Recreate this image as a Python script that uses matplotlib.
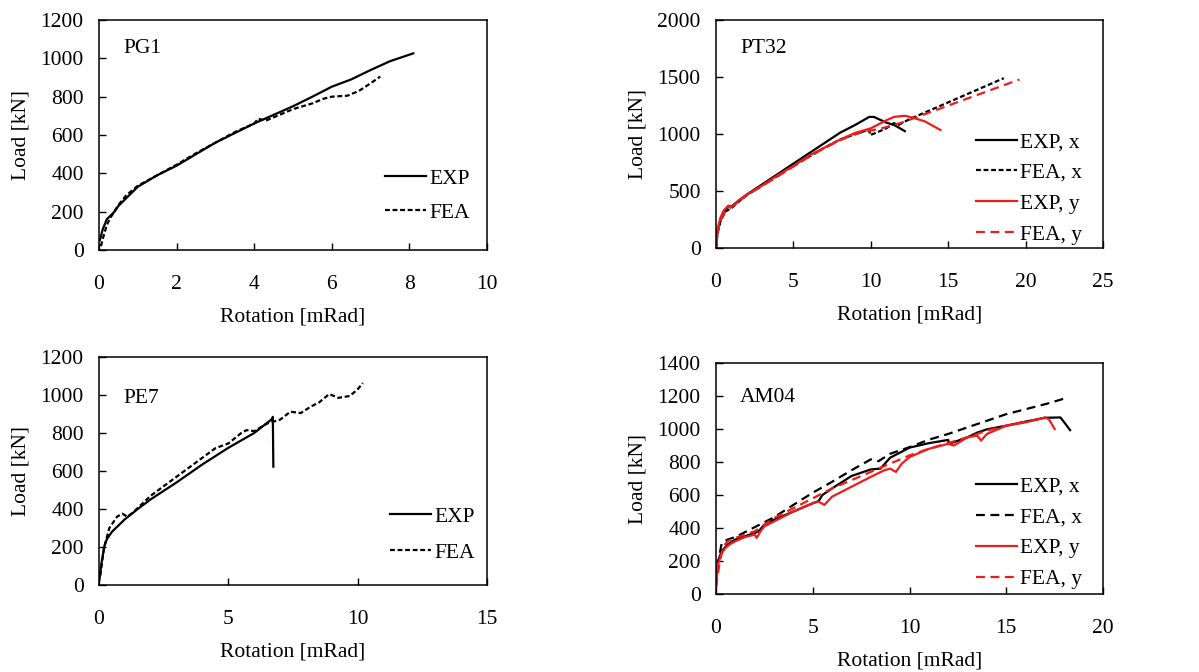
import numpy as np
import matplotlib.pyplot as plt

plt.rcParams['font.family'] = ['Liberation Serif', 'DejaVu Serif']
fs = 15.5

# PG1
pg1_exp_x = [0.02, 0.1, 0.2, 0.4, 0.5, 0.7, 1.0, 1.5, 2.0, 2.5, 3.0, 3.5, 4.0, 4.5, 5.0, 5.5, 6.0, 6.5, 7.0, 7.5, 8.1]
pg1_exp_y = [50, 110, 160, 200, 230, 270, 330, 390, 440, 500, 560, 610, 660, 705, 750, 800, 852, 890, 939, 985, 1026]
pg1_fea_x = [0.05, 0.1, 0.2, 0.3, 0.5, 0.7, 1.0, 1.5, 2.0, 2.5, 3.0, 3.5, 4.0, 4.1, 4.3, 5.0, 5.5, 5.8, 6.0, 6.4, 6.7, 7.0, 7.25]
pg1_fea_y = [20, 60, 130, 170, 235, 285, 335, 390, 445, 505, 560, 615, 660, 685, 675, 735, 765, 790, 800, 805, 830, 870, 905]

# PT32
pt_expx_x = [0.0, 0.1, 0.3, 0.6, 0.8, 1.0, 1.5, 2, 3, 4, 5, 6, 7, 8, 9, 9.9, 10.2, 11, 11.5, 12.2]
pt_expx_y = [0, 150, 250, 330, 370, 365, 420, 470, 560, 650, 740, 830, 920, 1010, 1080, 1150, 1150, 1100, 1080, 1025]
pt_feax_x = [0.0, 0.1, 0.3, 0.6, 1.0, 1.5, 2, 3, 4, 5, 6, 7, 8, 8.5, 9.9, 9.95, 10.5, 11, 11.5, 11.8, 12.5, 18.6]
pt_feax_y = [0, 130, 240, 320, 350, 410, 465, 550, 635, 720, 800, 880, 950, 975, 1040, 990, 1020, 1050, 1095, 1080, 1130, 1490]
pt_expy_x = [0.0, 0.1, 0.3, 0.5, 0.8, 1.0, 1.2, 1.5, 2, 3, 4, 5, 6, 7, 8, 9, 10, 11, 11.5, 12.2, 12.8, 13.5, 14.5]
pt_expy_y = [0, 170, 270, 330, 370, 360, 380, 420, 470, 550, 640, 720, 810, 880, 950, 1010, 1050, 1120, 1150, 1160, 1140, 1110, 1035]
pt_feay_x = [0.0, 0.1, 0.3, 0.6, 1.0, 1.5, 2, 3, 4, 5, 6, 7, 8, 9, 10, 11, 12, 13, 19.6]
pt_feay_y = [0, 140, 250, 320, 360, 410, 465, 545, 630, 715, 800, 875, 945, 1000, 1030, 1060, 1100, 1150, 1478]

# PE7
pe_exp_x = [0.02, 0.1, 0.2, 0.3, 0.5, 1.0, 1.5, 2.0, 3.0, 4.0, 5.0, 6.0, 6.7, 6.72, 6.74]
pe_exp_y = [30, 120, 200, 240, 280, 346, 400, 451, 540, 635, 722, 800, 875, 885, 623]
pe_fea_x = [0.05, 0.2, 0.4, 0.7, 0.9, 1.1, 1.3, 2.0, 3.0, 4.0, 4.5, 5.0, 5.5, 5.7, 6.0, 6.5, 7.0, 7.4, 7.8, 8.2, 8.5, 8.9, 9.25, 9.7, 10.0, 10.2]
pe_fea_y = [50, 200, 300, 360, 375, 360, 380, 470, 570, 670, 720, 745, 800, 815, 810, 850, 870, 912, 905, 940, 960, 1005, 985, 995, 1030, 1063]

# AM04
am_expx_x = [0.0, 0.1, 0.3, 0.6, 1.0, 1.5, 2.0, 2.2, 2.5, 3, 4, 5, 5.3, 5.5, 6, 7, 8, 8.5, 9, 10, 11, 12, 12.05, 13, 13.5, 14, 15, 16, 17, 17.8, 18.0, 18.3]
am_expx_y = [50, 200, 260, 300, 330, 350, 370, 380, 420, 450, 500, 550, 563, 600, 640, 715, 755, 760, 826, 887, 914, 934, 910, 950, 978, 998, 1020, 1045, 1068, 1070, 1040, 993]
am_feax_x = [0.2, 0.3, 0.6, 1, 2, 3, 4, 5, 6, 7, 8, 8.4, 9, 10, 11, 12, 13, 14, 15, 16, 17, 18.2]
am_feax_y = [250, 310, 330, 345, 405, 465, 540, 614, 680, 750, 816, 805, 850, 890, 935, 970, 1010, 1050, 1090, 1120, 1150, 1191]
am_expy_x = [0.0, 0.1, 0.3, 0.5, 0.7, 1, 1.5, 2, 2.1, 2.3, 2.5, 3, 4, 5, 5.3, 5.6, 6, 7, 8, 8.7, 9, 9.3, 9.6, 10, 11, 12, 12.3, 13, 13.5, 13.7, 14, 15, 16, 17, 17.2, 17.5]
am_expy_y = [40, 180, 250, 280, 300, 320, 345, 360, 340, 380, 410, 440, 500, 550, 560, 540, 590, 650, 710, 750, 760, 740, 790, 830, 880, 910, 900, 950, 960, 930, 970, 1020, 1040, 1070, 1060, 1000]
am_feay_x = [0.0, 0.2, 0.4, 0.6, 1, 2, 3, 4, 5, 5.5, 6, 7, 8, 9, 10, 11, 12, 13, 14, 15, 16, 17]
am_feay_y = [40, 200, 290, 320, 340, 380, 460, 520, 580, 610, 640, 690, 740, 790, 840, 880, 915, 950, 990, 1020, 1045, 1065]

red = '#ee1c1c'
short_dash = (0, (2.2, 1.2))
long_dash = (0, (4, 2.5))

fig = plt.figure(figsize=(11.99, 6.72), dpi=100)
W, H = 1199, 672


def make_ax(l, r, t, b):
    return fig.add_axes([l / W, (H - b) / H, (r - l) / W, (b - t) / H])


def style(ax, xmax, xstep, ymax, ystep, name, name_y, leg_pos, spacing):
    ax.set_xlim(0, xmax)
    ax.set_ylim(0, ymax)
    ax.set_xticks(np.arange(0, xmax + 0.01, xstep))
    ax.set_yticks(np.arange(0, ymax + 0.01, ystep))
    ax.tick_params(direction='in', length=5, width=1, labelsize=fs)
    ax.tick_params(axis='x', pad=18)
    ax.tick_params(axis='y', pad=11)
    for s in ax.spines.values():
        s.set_linewidth(1.1)
    ax.set_xlabel('Rotation [mRad]', fontsize=fs, labelpad=10)
    ax.set_ylabel('Load [kN]', fontsize=fs, labelpad=7)
    ax.text(0.062, name_y, name, transform=ax.transAxes, fontsize=fs, va='center')
    ax.legend(loc='center right', bbox_to_anchor=leg_pos, frameon=False, fontsize=fs,
              handlelength=1.9, handletextpad=0.15, labelspacing=spacing,
              borderaxespad=0, borderpad=0)


ax1 = make_ax(99, 487, 20, 250)
ax1.plot(pg1_exp_x, pg1_exp_y, color='black', lw=1.6, label='EXP')
ax1.plot(pg1_fea_x, pg1_fea_y, color='black', lw=1.6, ls=short_dash, label='FEA')
style(ax1, 10, 2, 1200, 200, 'PG1', 0.878, (0.956, 0.235), 0.65)

ax2 = make_ax(716, 1103, 20, 248)
ax2.plot(pt_expx_x, pt_expx_y, color='black', lw=1.6, label='EXP, x')
ax2.plot(pt_feax_x, pt_feax_y, color='black', lw=1.6, ls=short_dash, label='FEA, x')
ax2.plot(pt_expy_x, pt_expy_y, color=red, lw=1.6, label='EXP, y')
ax2.plot(pt_feay_x, pt_feay_y, color=red, lw=1.6, ls=long_dash, label='FEA, y')
style(ax2, 25, 5, 2000, 500, 'PT32', 0.877, (0.946, 0.262), 0.5)

ax3 = make_ax(99, 487, 357, 585)
ax3.plot(pe_exp_x, pe_exp_y, color='black', lw=1.6, label='EXP')
ax3.plot(pe_fea_x, pe_fea_y, color='black', lw=1.6, ls=short_dash, label='FEA')
style(ax3, 15, 5, 1200, 200, 'PE7', 0.82, (0.969, 0.22), 0.75)

ax4 = make_ax(716, 1103, 363, 594)
ax4.plot(am_expx_x, am_expx_y, color='black', lw=1.6, label='EXP, x')
ax4.plot(am_feax_x, am_feax_y, color='black', lw=1.6, ls=long_dash, label='FEA, x')
ax4.plot(am_expy_x, am_expy_y, color=red, lw=1.6, label='EXP, y')
ax4.plot(am_feay_x, am_feay_y, color=red, lw=1.6, ls=long_dash, label='FEA, y')
style(ax4, 20, 5, 1400, 200, 'AM04', 0.85, (0.946, 0.264), 0.5)

fig.savefig('out.png', dpi=100)
